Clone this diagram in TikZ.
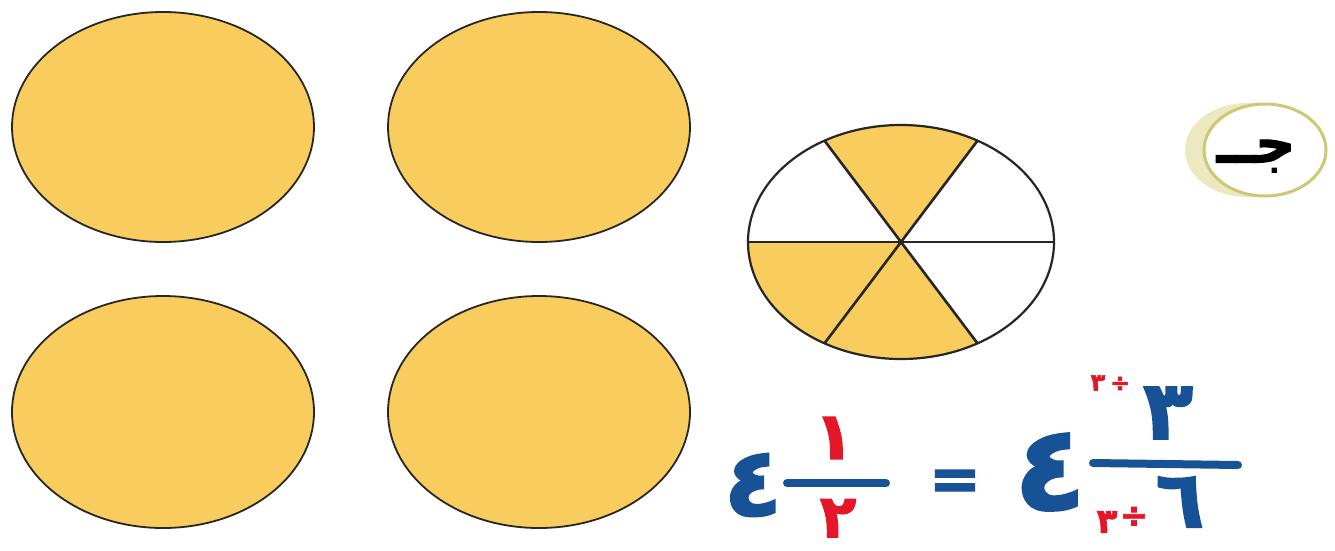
\documentclass[tikz,border=0pt]{standalone}
\usepackage{fontspec}
\usetikzlibrary{calc}
\newfontfamily\arabicfont[Script=Arabic]{DejaVu Sans}
\newfontfamily\inkfont[Script=Arabic,BoldFeatures={FakeBold=2}]{DejaVu Sans}
\TeXXeTstate=1
\definecolor{pieyellow}{RGB}{248,205,94}
\definecolor{inkblue}{RGB}{24,82,150}
\definecolor{inkred}{RGB}{228,22,40}
\definecolor{ringolive}{RGB}{205,200,115}
\definecolor{ringshade}{RGB}{236,232,192}
\begin{document}
\begin{tikzpicture}[x=1pt,y=-1pt,
  whole/.style={fill=pieyellow,draw=black!85,line width=1.8pt},
  rim/.style={draw=black!85,line width=2.2pt},
  cut/.style={draw=black!85,line width=2.6pt},
  piece/.style={fill=pieyellow},
  bluedigit/.style={inner sep=0pt,text=inkblue},
  reddigit/.style={inner sep=0pt,text=inkred},
  fbar/.style={draw=inkblue,line width=8pt,line cap=round}]
\useasboundingbox (0,0) rectangle (1335,550);
% four whole yellow pies
\draw[whole] (163,127) ellipse [x radius=151pt, y radius=115pt];
\draw[whole] (539,127) ellipse [x radius=151pt, y radius=115pt];
\draw[whole] (163,412) ellipse [x radius=151pt, y radius=116pt];
\draw[whole] (539,412) ellipse [x radius=151pt, y radius=116pt];
% pie cut into six parts
\coordinate (c) at (901,242);
\fill[white] (c) ellipse [x radius=153pt, y radius=117pt];
\fill[piece] (c) -- ($(c)+(60:153pt and 117pt)$) arc[start angle=60,end angle=120,x radius=153pt,y radius=117pt] -- cycle;
\fill[piece] (c) -- ($(c)+(180:153pt and 117pt)$) arc[start angle=180,end angle=300,x radius=153pt,y radius=117pt] -- cycle;
\coordinate (p0) at ($(c)+(0:153pt and 117pt)$);
\coordinate (p60) at ($(c)+(60:153pt and 117pt)$);
\coordinate (p120) at ($(c)+(120:153pt and 117pt)$);
\coordinate (p180) at ($(c)+(180:153pt and 117pt)$);
\coordinate (p240) at ($(c)+(240:153pt and 117pt)$);
\coordinate (p300) at ($(c)+(300:153pt and 117pt)$);
\draw[cut] (p0) -- (p180);
\draw[cut] (p60) -- (p240);
\draw[cut] (p120) -- (p300);
\draw[rim] (c) ellipse [x radius=153pt, y radius=117pt];
% label
\fill[ringshade] (1247,150) ellipse [x radius=62pt, y radius=47pt];
\draw[fill=white,draw=ringolive,line width=3pt] (1265,150) ellipse [x radius=61pt, y radius=46pt];
\node[inner sep=0pt,font=\inkfont\bfseries\fontsize{56}{64}\selectfont] (lbl) at (1256,156) {\beginR جــ\endR};
% equation
\node[bluedigit,font=\inkfont\bfseries\fontsize{96}{110}\selectfont] (four1) at (753,485) {٤};
\coordinate (b1l) at (787,483);
\coordinate (b1r) at (886,483);
\draw[fbar] (b1l) -- (b1r);
\node[reddigit,font=\inkfont\bfseries\fontsize{66}{74}\selectfont] (one) at (834,438) {١};
\node[reddigit,font=\inkfont\bfseries\fontsize{60}{68}\selectfont,anchor=north] (two) at (838,499) {٢};
\node[bluedigit,font=\inkfont\bfseries\fontsize{62}{70}\selectfont] (eq) at (955,485) {=};
\node[bluedigit,font=\inkfont\bfseries\fontsize{118}{130}\selectfont] (four2) at (1050,472) {٤};
\coordinate (b2l) at (1093,463);
\coordinate (b2r) at (1238,465);
\draw[fbar] (b2l) -- (b2r);
\node[bluedigit,font=\inkfont\bfseries\fontsize{82}{92}\selectfont] (three) at (1168,413) {٣};
\node[bluedigit,font=\inkfont\bfseries\fontsize{80}{90}\selectfont] (six) at (1180,502) {٦};
\node[reddigit,font=\inkfont\bfseries\fontsize{24}{28}\selectfont] (t1) at (1098,383) {٣};
\node[reddigit,font=\inkfont\bfseries\fontsize{24}{28}\selectfont] (d1) at (1120,384) {÷};
\node[reddigit,font=\inkfont\bfseries\fontsize{34}{40}\selectfont] (t2) at (1107,522) {٣};
\node[reddigit,font=\inkfont\bfseries\fontsize{34}{40}\selectfont] (d2) at (1134,517) {÷};
\end{tikzpicture}
\end{document}
